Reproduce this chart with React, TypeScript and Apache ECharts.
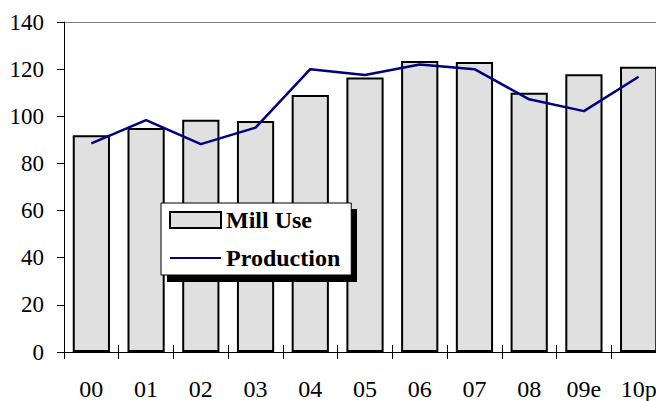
import React, { useEffect, useRef } from "react";
import * as echarts from "echarts";

const categories = ["00", "01", "02", "03", "04", "05", "06", "07", "08", "09e", "10p"];
const millUse = [92, 95, 98.5, 98, 109, 116.5, 123.5, 123, 110, 117.8, 121];
const production = [88.5, 98.4, 88.2, 95.2, 120, 117.5, 122, 120, 107.2, 102.2, 116.8];
const yTicks = [0, 20, 40, 60, 80, 100, 120, 140];

const FONT = "Liberation Serif";

export default function App() {
  const ref = useRef<HTMLDivElement>(null);
  useEffect(() => {
    document.body.style.margin = "0";
    if (!ref.current) return;
    const chart = echarts.init(ref.current, null, { renderer: "svg" });
    const splitColors = yTicks.map((_, i) => (i === yTicks.length - 1 ? "#808080" : "rgba(0,0,0,0)"));
    chart.setOption({
      animation: false,
      textStyle: { fontFamily: FONT },
      grid: { left: 64, top: 22, bottom: 49, width: 602, containLabel: false, outerBoundsMode: "none" },
      legend: {
        orient: "vertical",
        left: 161,
        top: 203,
        padding: [5, 11, 5, 8],
        itemGap: 14,
        itemWidth: 51,
        itemHeight: 16,
        backgroundColor: "#ffffff",
        borderColor: "#000000",
        borderWidth: 1,
        z: 6,
        textStyle: { fontFamily: FONT, fontSize: 24, fontWeight: "bold", color: "#000" },
        data: [
          { name: "Mill Use", icon: "rect" },
          { name: "Production", itemStyle: { opacity: 0 } },
        ],
      },
      graphic: [
        {
          type: "rect",
          left: 167,
          top: 209,
          shape: { width: 190, height: 73 },
          style: { fill: "#000" },
          z: 5,
        },
      ],
      xAxis: [
        {
          type: "category",
          data: categories,
          position: "bottom",
          axisLine: { show: true, lineStyle: { color: "#000", width: 1 } },
          axisTick: { show: true, inside: false, length: 7, lineStyle: { color: "#000" } },
          axisLabel: { fontFamily: FONT, fontSize: 24, color: "#000", margin: 25 },
          splitLine: { show: false },
        },
        {
          type: "category",
          data: categories,
          position: "bottom",
          axisLine: { show: false },
          axisTick: { show: true, inside: true, length: 7, lineStyle: { color: "#000" } },
          axisLabel: { show: false },
          splitLine: { show: false },
        },
      ],
      yAxis: {
        type: "value",
        min: 0,
        max: 140,
        interval: 20,
        axisLine: { show: true, lineStyle: { color: "#000", width: 1 } },
        axisTick: { show: true, length: 7, lineStyle: { color: "#000" } },
        axisLabel: { fontFamily: FONT, fontSize: 23, color: "#000", margin: 20 },
        splitLine: { show: true, lineStyle: { color: splitColors, width: 1 } },
      },
      series: [
        {
          name: "Mill Use",
          type: "bar",
          data: millUse,
          barWidth: "68%",
          itemStyle: { color: "#e0e0e0", borderColor: "#000", borderWidth: 2 },
        },
        {
          name: "Production",
          type: "line",
          data: production,
          symbol: "none",
          lineStyle: { color: "#000080", width: 2.5 },
          itemStyle: { color: "#000080" },
          z: 3,
        },
      ],
    });
    return () => chart.dispose();
  }, []);
  return <div ref={ref} style={{ width: 656, height: 401 }} />;
}
